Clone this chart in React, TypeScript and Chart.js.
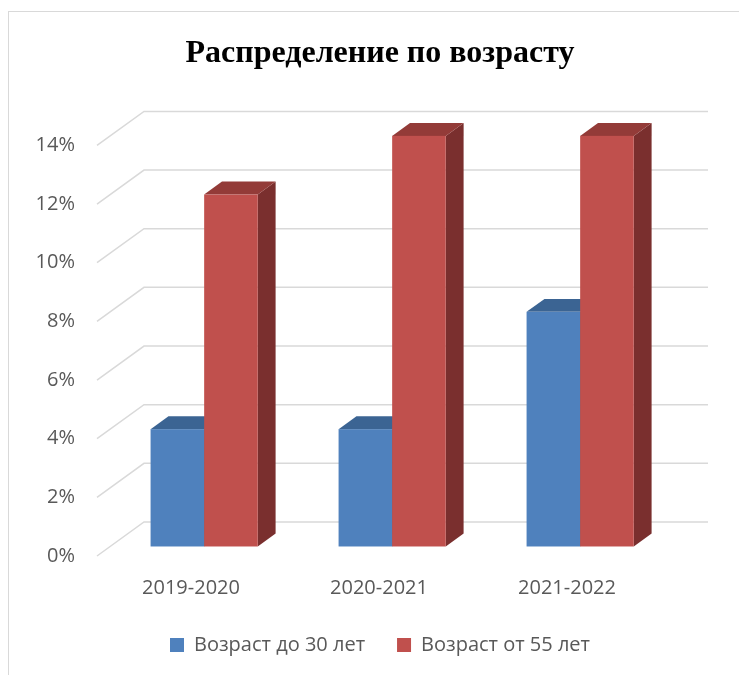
import React, { useEffect, useRef } from "react";
import { Chart, registerables } from "chart.js";

Chart.register(...registerables);

const categories = ["2019-2020", "2020-2021", "2021-2022"];
const seriesNames = ["Возраст до 30 лет", "Возраст от 55 лет"];
const under30 = [4, 4, 8];
const over55 = [12, 14, 14];
const yMin = 0;
const yMax = 14;
const yStep = 2;

const TITLE = "Распределение по возрасту";

// 3D geometry (pixels) – styling, not data
const WALL_DX = 47;
const WALL_DY = -34;
const BAR_FRONT = 0.28;
const BAR_DEPTH = 0.38;

const FACE_COLORS = [
  { front: "#4F81BD", top: "#3B6493", side: "#30527A" },
  { front: "#C0504D", top: "#933B38", side: "#7A2F2E" },
];

const threeDPlugin = {
  id: "threeD",
  beforeDatasetsDraw(chart: any) {
    const { ctx, chartArea: a, scales } = chart;
    const y = scales.y;
    ctx.save();
    ctx.strokeStyle = "#D9D9D9";
    ctx.lineWidth = 1.5;
    y.ticks.forEach((t: any) => {
      const py = y.getPixelForValue(t.value);
      ctx.beginPath();
      ctx.moveTo(a.left, py);
      ctx.lineTo(a.left + WALL_DX, py + WALL_DY);
      ctx.lineTo(a.right + WALL_DX, py + WALL_DY);
      ctx.stroke();
    });
    const n = chart.data.labels.length;
    const ox = BAR_FRONT * WALL_DX;
    const oy = BAR_FRONT * WALL_DY;
    const dx = BAR_DEPTH * WALL_DX;
    const dy = BAR_DEPTH * WALL_DY;
    for (let j = 0; j < n; j++) {
      chart.data.datasets.forEach((_: any, i: number) => {
        const meta = chart.getDatasetMeta(i);
        const el = meta.data[j];
        if (!el) return;
        const p = el.getProps(["x", "y", "base", "width"], true);
        const l = p.x - p.width / 2 + ox;
        const r = p.x + p.width / 2 + ox;
        const t = p.y + oy;
        const b = p.base + oy;
        const c = FACE_COLORS[i];
        ctx.fillStyle = c.side;
        ctx.beginPath();
        ctx.moveTo(r, t);
        ctx.lineTo(r + dx, t + dy);
        ctx.lineTo(r + dx, b + dy);
        ctx.lineTo(r, b);
        ctx.closePath();
        ctx.fill();
        ctx.fillStyle = c.top;
        ctx.beginPath();
        ctx.moveTo(l, t);
        ctx.lineTo(l + dx, t + dy);
        ctx.lineTo(r + dx, t + dy);
        ctx.lineTo(r, t);
        ctx.closePath();
        ctx.fill();
        ctx.fillStyle = c.front;
        ctx.fillRect(l, t, r - l, b - t);
      });
    }
    ctx.restore();
    return false;
  },
};

export default function App() {
  const ref = useRef<HTMLCanvasElement | null>(null);

  useEffect(() => {
    if (!ref.current) return;
    const labelFont = { family: "'Open Sans', 'Noto Sans', sans-serif", size: 20 };
    const chart = new Chart(ref.current, {
      type: "bar",
      data: {
        labels: categories,
        datasets: [
          { label: seriesNames[0], data: under30, backgroundColor: FACE_COLORS[0].front },
          { label: seriesNames[1], data: over55, backgroundColor: FACE_COLORS[1].front },
        ],
      },
      plugins: [threeDPlugin],
      options: {
        responsive: false,
        animation: false,
        devicePixelRatio: 1,
        categoryPercentage: 0.57,
        barPercentage: 1.0,
        layout: { padding: { left: 12, right: 0, top: 0, bottom: 10 } },
        plugins: {
          tooltip: { enabled: false },
          title: {
            display: true,
            text: TITLE,
            color: "#000000",
            font: { family: "'Liberation Serif', 'Times New Roman', serif", size: 32, weight: "bold" },
            padding: { top: 23, bottom: 72 },
          },
          legend: {
            display: true,
            position: "bottom",
            labels: {
              color: "#595959",
              font: labelFont,
              boxWidth: 14,
              boxHeight: 14,
              padding: 32,
            },
          },
        },
        scales: {
          x: {
            grid: { display: false, drawTicks: false },
            border: { display: false },
            ticks: { color: "#595959", font: labelFont, padding: 20 },
            afterFit: (s: any) => {
              s.height = 47;
            },
          },
          y: {
            min: yMin,
            max: yMax,
            grid: { display: false, drawTicks: false },
            border: { display: false },
            ticks: {
              stepSize: yStep,
              color: "#595959",
              font: labelFont,
              padding: 22,
              callback: (v: any) => v + "%",
            },
            afterFit: (s: any) => {
              s.width = 76;
            },
          },
          yr: {
            type: "linear",
            position: "right",
            display: true,
            grid: { display: false, drawTicks: false },
            border: { display: false },
            ticks: { display: false },
            afterFit: (s: any) => {
              s.width = 78;
            },
          },
        },
      } as any,
    });
    return () => chart.destroy();
  }, []);

  return (
    <div style={{ position: "fixed", left: 0, top: 0, width: 739, height: 675, overflow: "hidden", background: "#fff" }}>
      <div
        style={{
          position: "absolute",
          left: 8,
          top: 11,
          width: 800,
          height: 800,
          borderLeft: "1px solid #D9D9D9",
          borderTop: "1px solid #D9D9D9",
        }}
      >
        <canvas ref={ref} width={730} height={663} style={{ display: "block", width: 730, height: 663 }} />
      </div>
    </div>
  );
}
